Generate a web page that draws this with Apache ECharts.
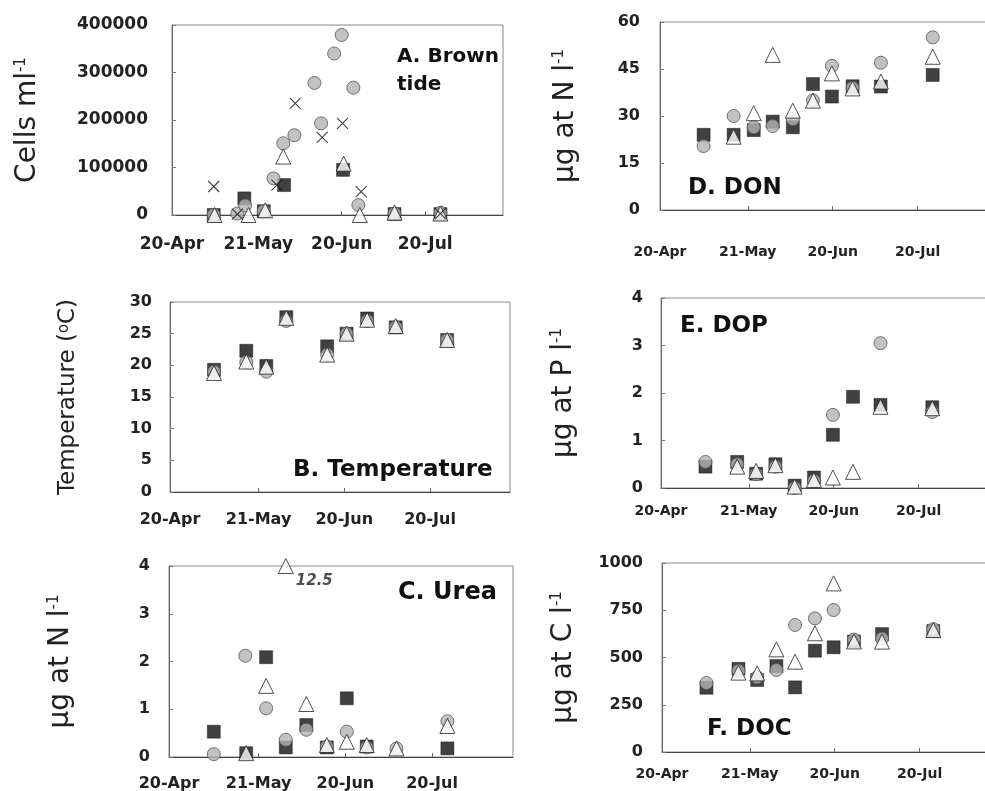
<!DOCTYPE html>
<html lang="en">
<head>
<meta charset="UTF-8">
<title>Brown tide and dissolved organic matter</title>
<script src="https://cdn.jsdelivr.net/npm/echarts@6/dist/echarts.min.js"></script>
<style>
  html, body { margin: 0; padding: 0; background: #fff; }
  #main { width: 985px; height: 791px; }
</style>
</head>
<body>
<div id="main"></div>
<script>
// x = days after 20-Apr
var tickDays = [0, 31, 61, 91];
var tickLabels = ['20-Apr', '21-May', '20-Jun', '20-Jul'];

// A. Brown tide (cells ml-1)
var tideSquare = [[15, 0], [26, 35000], [33, 8000], [40.3, 63000], [61.5, 95000], [80, 2000], [96.5, 2000]];
var tideCircle = [[15, 0], [23.5, 3000], [26.3, 20000], [33, 8000], [36.5, 77000], [40, 151000], [44, 168000], [51.2, 278000],
                  [53.6, 193000], [58.3, 340000], [61, 379000], [65.2, 268000], [67, 21000], [80, 3000], [96.5, 5000]];
var tideTriangle = [[15.3, 0], [27.5, 0], [33.5, 10000], [40, 123000], [61.7, 108000], [67.5, 0], [80, 5000], [96.5, 3000]];
var tideCross = [[15, 60000], [23.5, 2000], [37.7, 63000], [44.3, 235000], [54, 163500], [61.3, 193000], [68, 49000], [96.5, 3000]];

// B. Temperature (oC)
var tempSquare = [[15.4, 19.3], [26.7, 22.3], [33.7, 19.9], [40.7, 27.6], [55, 23], [61.8, 25], [69, 27.4], [79, 26], [97, 24]];
var tempCircle = [[15.4, 19], [26.7, 20.5], [33.7, 19], [40.7, 27], [55, 21.7], [61.8, 25], [69, 27], [79, 26], [97, 24]];
var tempTriangle = [[15.4, 18.8], [26.7, 20.6], [33.7, 19.8], [40.7, 27.5], [55, 21.7], [61.8, 25], [69, 27.2], [79, 26.2], [97, 24]];

// C. Urea (ug at N l-1)
var ureaSquare = [[15.5, 0.53], [26.7, 0.08], [33.6, 2.09], [40.4, 0.2], [47.5, 0.67], [54.6, 0.2], [61.5, 1.23], [68.4, 0.22], [96.3, 0.18]];
var ureaCircle = [[15.5, 0.06], [26.4, 2.12], [33.6, 1.02], [40.4, 0.36], [47.5, 0.57], [54.6, 0.22], [61.5, 0.53], [68.4, 0.2], [78.7, 0.18], [96.3, 0.75]];
var ureaTriangle = [[26.7, 0.08], [33.6, 1.49], [40.4, 12.5], [47.5, 1.11], [54.6, 0.25], [61.5, 0.32], [68.4, 0.25], [78.7, 0.18], [96.3, 0.65]];

// D. DON (ug at N l-1)
var donSquare = [[15.4, 24], [26, 24], [33.1, 25.5], [39.8, 28.2], [46.9, 26.4], [54, 40.2], [60.7, 36.2], [68, 39.5], [78, 39.4], [96.3, 43.1]];
var donCircle = [[15.4, 20.4], [26, 30], [33.1, 26.4], [39.8, 26.8], [46.9, 29], [54, 35], [60.7, 46], [68, 39], [78, 47], [96.3, 55.1]];
var donTriangle = [[26, 23.4], [33.1, 30.9], [39.8, 49.5], [46.9, 31.7], [54, 34.9], [60.7, 43.6], [68, 38.8], [78, 41], [96.3, 48.9]];

// E. DOP (ug at P l-1)
var dopSquare = [[15.7, 0.45], [26.9, 0.55], [33.6, 0.3], [40.4, 0.5], [47.2, 0.05], [54, 0.22], [60.7, 1.12], [67.8, 1.92], [77.5, 1.75], [95.8, 1.7]];
var dopCircle = [[15.7, 0.55], [26.9, 0.5], [33.6, 0.29], [40.4, 0.45], [47.2, 0], [54, 0.15], [60.7, 1.54], [77.5, 3.05], [95.8, 1.6]];
var dopTriangle = [[26.9, 0.45], [33.6, 0.36], [40.4, 0.48], [47.2, 0.03], [54, 0.17], [60.7, 0.22], [67.8, 0.34], [77.5, 1.71], [95.8, 1.68]];

// F. DOC (ug at C l-1)
var docSquare = [[15.7, 340], [27, 440], [33.6, 381], [40.4, 455], [47, 342], [54, 536], [60.6, 554], [67.8, 585], [77.7, 624], [95.8, 640]];
var docCircle = [[15.7, 365], [27, 430], [33.6, 395], [40.4, 434], [47, 672], [54, 707], [60.6, 751], [67.8, 595], [77.7, 600], [95.8, 650]];
var docTriangle = [[27, 420], [33.6, 416], [40.4, 543], [47, 478], [54, 628], [60.6, 892], [67.8, 585], [77.7, 584], [95.8, 645]];

var FONT = 'DejaVu Sans';
var chart = echarts.init(document.getElementById('main'));

// panel boxes
var grids = [
  {left: 172, top: 25, width: 331, height: 190},   // A
  {left: 170, top: 302, width: 340, height: 190},  // B
  {left: 169, top: 566, width: 344, height: 191},  // C
  {left: 660, top: 22, width: 337, height: 188},   // D
  {left: 661, top: 298, width: 337, height: 190},  // E
  {left: 662, top: 563, width: 337, height: 189}   // F
];
grids.forEach(function (g) {
  g.show = true; g.borderColor = '#888'; g.borderWidth = 1;
  g.containLabel = false; g.outerBoundsMode = 'none';
});

var xLabelSize = [17, 16, 16, 14, 14, 14];
var xLabelMargin = [21, 20, 19, 35, 16, 15];
var xAxes = grids.map(function (g, i) {
  return {
    type: 'value', gridIndex: i, min: 0, max: 119,
    splitLine: {show: false},
    axisLine: {lineStyle: {color: '#444', width: 1}},
    axisTick: {inside: true, length: 4, customValues: tickDays, lineStyle: {color: '#666'}},
    axisLabel: {
      customValues: tickDays, margin: xLabelMargin[i],
      fontFamily: FONT, fontWeight: 'bold', fontSize: xLabelSize[i], color: '#222',
      formatter: function (v) { var k = tickDays.indexOf(v); return k < 0 ? '' : tickLabels[k]; }
    }
  };
});

var sup = {fontSize: 15, verticalAlign: 'top', fontFamily: FONT, color: '#222'};
var yCfg = [
  {max: 400000, interval: 100000, name: 'Cells ml{s|-1}', size: 28, gap: 130, lab: 17, margin: 24},
  {max: 30, interval: 5, name: 'Temperature ({s|o}C)', size: 23, gap: 90, lab: 16, margin: 18},
  {max: 4, interval: 1, name: '\u00b5g at N l{s|-1}', size: 28, gap: 94, lab: 16, margin: 19},
  {max: 60, interval: 15, name: '\u00b5g at N l{s|-1}', size: 28, gap: 80, lab: 16, margin: 20},
  {max: 4, interval: 1, name: '\u00b5g at P l{s|-1}', size: 28, gap: 83, lab: 16, margin: 18},
  {max: 1000, interval: 250, name: '\u00b5g at C l{s|-1}', size: 28, gap: 84, lab: 16, margin: 19}
];
var yAxes = yCfg.map(function (c, i) {
  return {
    type: 'value', gridIndex: i, min: 0, max: c.max, interval: c.interval,
    name: c.name, nameLocation: 'middle', nameGap: c.gap, nameRotate: 90,
    nameTextStyle: {fontFamily: FONT, fontSize: c.size, color: '#222', rich: {s: sup}},
    splitLine: {show: false},
    axisLine: {show: true, lineStyle: {color: '#666', width: 1}},
    axisTick: {inside: true, length: 4, lineStyle: {color: '#777'}},
    axisLabel: {
      margin: c.margin, fontFamily: FONT, fontWeight: 'bold', fontSize: c.lab, color: '#222',
      formatter: function (v) { return String(v); }
    }
  };
});

function squares(data, i) {
  return {type: 'scatter', xAxisIndex: i, yAxisIndex: i, data: data, clip: false,
    symbol: 'rect', symbolSize: 13, itemStyle: {color: '#111', borderColor: '#000', borderWidth: 0.5}};
}
function circles(data, i) {
  return {type: 'scatter', xAxisIndex: i, yAxisIndex: i, data: data, clip: false,
    symbol: 'circle', symbolSize: 13, itemStyle: {color: '#b3b3b3', borderColor: '#555', borderWidth: 1}};
}
function triangles(data, i) {
  return {type: 'scatter', xAxisIndex: i, yAxisIndex: i, data: data, clip: false,
    symbol: 'triangle', symbolSize: [15, 15], itemStyle: {color: '#fff', borderColor: '#222', borderWidth: 1}};
}
function crosses(data, i) {
  return {type: 'scatter', xAxisIndex: i, yAxisIndex: i, data: data, clip: false,
    symbol: 'path://M0,0L10,10M10,0L0,10', symbolSize: 11,
    itemStyle: {color: 'transparent', borderColor: '#111', borderWidth: 1.1}};
}

// urea triangle off scale (12.5) sits on the top edge with its value written next to it
var ureaTop = yCfg[2].max;
var ureaTriItems = ureaTriangle.map(function (p) {
  var item = {value: [p[0], Math.min(p[1], ureaTop)]};
  if (p[1] > ureaTop) {
    item.label = {show: true, position: 'right', distance: 2, offset: [0, 15], formatter: String(p[1]),
      fontFamily: FONT, fontSize: 15, fontWeight: 'bold', fontStyle: 'italic', color: '#222'};
  }
  return item;
});

var titleStyle = {fontFamily: FONT, fontWeight: 'bold', color: '#111'};
function panelTitle(text, left, top, size, lh) {
  return {text: text, left: left, top: top, padding: 0,
    textStyle: Object.assign({fontSize: size, lineHeight: lh || size + 4}, titleStyle)};
}

chart.setOption({
  backgroundColor: '#fff',
  animation: false,
  title: [
    panelTitle('A. Brown\ntide', 397, 43, 20, 28),
    panelTitle('B. Temperature', 293, 457, 23),
    panelTitle('C. Urea', 398, 579, 24),
    panelTitle('D. DON', 688, 175, 23),
    panelTitle('E. DOP', 680, 313, 23),
    panelTitle('F. DOC', 707, 716, 23)
  ],
  grid: grids,
  xAxis: xAxes,
  yAxis: yAxes,
  series: [
    squares(tideSquare, 0), circles(tideCircle, 0), triangles(tideTriangle, 0), crosses(tideCross, 0),
    squares(tempSquare, 1), circles(tempCircle, 1), triangles(tempTriangle, 1),
    squares(ureaSquare, 2), circles(ureaCircle, 2), triangles(ureaTriItems, 2),
    squares(donSquare, 3), circles(donCircle, 3), triangles(donTriangle, 3),
    squares(dopSquare, 4), circles(dopCircle, 4), triangles(dopTriangle, 4),
    squares(docSquare, 5), circles(docCircle, 5), triangles(docTriangle, 5)
  ]
});
</script>
</body>
</html>
